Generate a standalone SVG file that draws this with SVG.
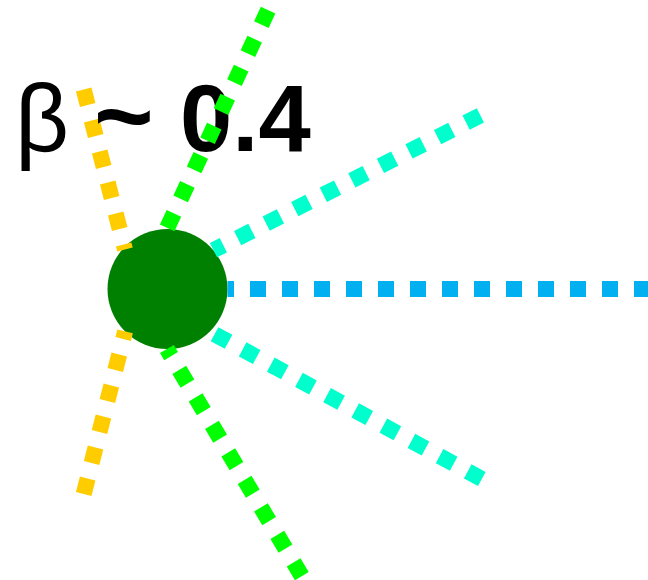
<svg xmlns="http://www.w3.org/2000/svg" width="648" height="580" viewBox="0 0 648 580">
<style>
.ray{fill:none;stroke-width:16;stroke-dasharray:16 16;stroke-linecap:butt}
.blue{stroke:#00B0F0}
.cyan{stroke:#00FFCC}
.green{stroke:#00FF00}
.orange{stroke:#FFCC00}
.lbl{font-family:"Liberation Sans",Arial,sans-serif;font-size:94px;font-weight:bold;fill:#000}
</style>
<rect width="648" height="580" fill="#fff"/>
<g id="node-core">
<circle cx="167.5" cy="289" r="60" fill="#008000"/>
</g>
<g id="connectors-back">
<line class="ray orange" x1="83.7" y1="89.55" x2="124.95" y2="249.4"/>
<line class="ray orange" x1="83.7" y1="494.05" x2="125.1" y2="331.4"/>
</g>
<g id="label">
<text class="lbl" y="151"><tspan x="15" font-weight="normal">β</tspan> <tspan x="94" font-size="102">~</tspan> <tspan x="180">0.4</tspan></text>
</g>
<g id="connectors">
<line class="ray blue" x1="650" y1="289" x2="227.5" y2="289"/>
<line class="ray cyan" x1="480.4" y1="115.4" x2="213.5" y2="250.2"/>
<line class="ray cyan" x1="481.8" y1="479" x2="209.8" y2="331.6"/>
<line class="ray green" x1="268.1" y1="10.1" x2="166.6" y2="229.1"/>
<line class="ray green" x1="301.8" y1="576.2" x2="166.9" y2="349"/>
</g>
</svg>
